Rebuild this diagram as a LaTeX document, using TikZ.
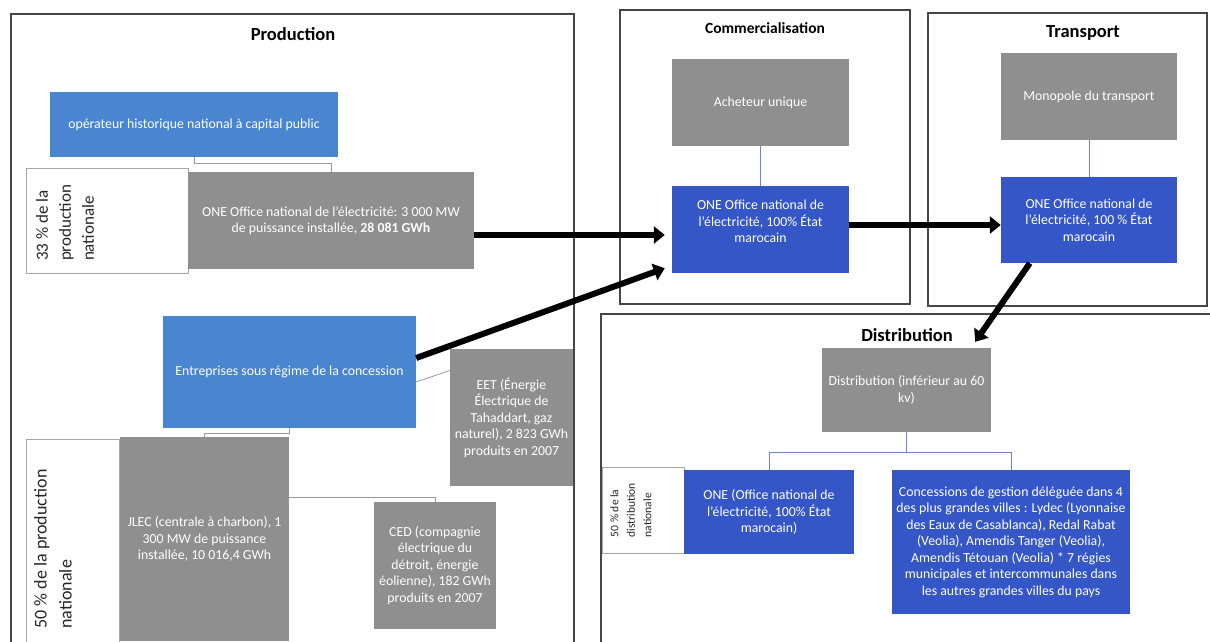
\documentclass[tikz,border=0pt]{standalone}
\usepackage{fontspec}
\setmainfont{Carlito}
\usetikzlibrary{arrows.meta}
\definecolor{lblue}{RGB}{74,134,208}
\definecolor{dblue}{RGB}{52,86,198}
\definecolor{boxgray}{RGB}{143,143,143}
\definecolor{framecol}{RGB}{70,70,70}
\definecolor{linkcol}{RGB}{150,150,160}
\definecolor{linkblue}{RGB}{110,130,200}
\newcommand{\bx}[7]{\node[#2, minimum width={#5-#3}, minimum height={#6-#4}] (#1) at ({(#3+#5)/2},{(#4+#6)/2}) {#7};}
\begin{document}
\begin{tikzpicture}[x=1pt,y=-1pt,
  boxbase/.style={inner sep=1pt, text=white, align=center, font=\fontsize{13.8}{16.5}\selectfont},
  graybox/.style={boxbase, fill=boxgray},
  lbluebox/.style={boxbase, fill=lblue},
  dbluebox/.style={boxbase, fill=dblue},
  whitebox/.style={draw=gray!70, fill=white, line width=0.8pt},
  frameline/.style={draw=framecol, line width=1.3pt},
  titlestyle/.style={font=\bfseries\fontsize{18.5}{21}\selectfont, text=black},
  sidelabel/.style={rotate=90, align=left, text=black!85},
  thinline/.style={draw=linkcol, line width=0.8pt},
  bluelink/.style={draw=linkblue, line width=0.8pt},
  bigarrow/.style={draw=black, line width=6pt, -{Triangle[length=11pt,width=17pt]}}
]
\useasboundingbox (0,0) rectangle (1210,641);
% frames
\draw[frameline] (11,650) -- (11,14) -- (574,14) -- (574,650);
\draw[frameline] (620,10) rectangle (910,304);
\draw[frameline] (928,13) rectangle (1207,306);
\draw[frameline] (601,650) -- (601,314) -- (1215,314);
% titles
\node[titlestyle] (tprod) at (293,34) {Production};
\node[titlestyle, font=\bfseries\fontsize{15.5}{18}\selectfont] (tcom) at (765,28) {Commercialisation};
\node[titlestyle] (ttr) at (1083,33) {Transport};
\node[titlestyle] (tdis) at (907,335) {Distribution};
% white label boxes
\bx{w33}{whitebox}{26}{168}{188}{273}{}
\bx{w50}{whitebox}{26}{439}{119}{650}{}
\bx{wd50}{whitebox}{602}{467}{684}{553}{}
\node[sidelabel, font=\fontsize{17}{23}\selectfont] (t33) at (65,223) {33 \% de la\\production\\nationale};
\node[sidelabel, font=\fontsize{18}{25}\selectfont] (t50) at (53,549) {50 \% de la production\\nationale};
\node[sidelabel, font=\fontsize{11.5}{16.5}\selectfont] (td50) at (631,510) {50 \% de la\\distribution\\nationale};
% boxes
\bx{opB}{lbluebox}{50}{92}{338}{157}{opérateur historique national à capital public}
\bx{oneP}{graybox}{188}{172}{474}{269}{ONE Office national de l'électricité: 3 000 MW\\de puissance installée, \textbf{28 081 GWh}}
\bx{ent}{lbluebox}{163}{316}{416}{428}{Entreprises sous régime de la concession}
\bx{eet}{graybox}{450}{349}{573}{486}{EET (Énergie\\Électrique de\\Tahaddart, gaz\\naturel), 2 823 GWh\\produits en 2007}
\bx{jlec}{graybox}{120}{437}{289}{641}{JLEC (centrale à charbon), 1\\300 MW de puissance\\installée, 10 016,4 GWh}
\bx{ced}{graybox}{374}{502}{496}{629}{CED (compagnie\\électrique du\\détroit, énergie\\éolienne), 182 GWh\\produits en 2007}
\bx{ach}{graybox}{672}{59}{849}{146}{Acheteur unique}
\bx{comOne}{dbluebox}{672}{186}{849}{273}{ONE Office national de\\l'électricité, 100\% État\\marocain\\ \mbox{}}
\bx{mono}{graybox}{1001}{53}{1177}{140}{Monopole du transport}
\bx{trOne}{dbluebox}{1001}{177}{1177}{263}{ONE Office national de\\l'électricité, 100 \% État\\marocain}
\bx{distG}{graybox}{822}{348}{991}{432}{Distribution (inférieur au 60\\kv)}
\bx{dOne}{dbluebox}{684}{470}{854}{554}{ONE (Office national de\\l'électricité, 100\% État\\marocain)}
\bx{conc}{dbluebox}{892}{470}{1130}{614}{Concessions de gestion déléguée dans 4\\des plus grandes villes : Lydec (Lyonnaise\\des Eaux de Casablanca), Redal Rabat\\(Veolia), Amendis Tanger (Veolia),\\Amendis Tétouan (Veolia) * 7 régies\\municipales et intercommunales dans\\les autres grandes villes du pays}
% thin connectors
\draw[thinline] (opB.south) -- ++(0,6) -| (oneP.north);
\draw[thinline] (ent.south) -- ++(0,5) -| (jlec.north);
\draw[thinline] ([yshift=-10pt]ent.east) -- ([yshift=47pt]eet.west);
\draw[thinline] ([yshift=42pt]jlec.east) -| (ced.north);
\draw[bluelink] (ach.south) -- (comOne.north);
\draw[bluelink] (mono.south) -- (trOne.north);
\draw[bluelink] (distG.south) -- ++(0,20) -| (dOne.north);
\draw[bluelink] (distG.south) -- ++(0,20) -| (conc.north);
% big arrows
\draw[bigarrow] ([yshift=-14.5pt]oneP.east) -- ([xshift=-7pt,yshift=-14.5pt]oneP.east -| comOne.west);
\draw[bigarrow] ([yshift=14pt]ent.east) -- ([xshift=-7pt,yshift=5pt]comOne.south west);
\draw[bigarrow] ([yshift=4.5pt]comOne.east) -- ([yshift=4.5pt]comOne.east -| trOne.west);
\draw[bigarrow] ([xshift=29pt]trOne.south west) -- ([xshift=-16pt,yshift=6pt]distG.north east);
\end{tikzpicture}
\end{document}
